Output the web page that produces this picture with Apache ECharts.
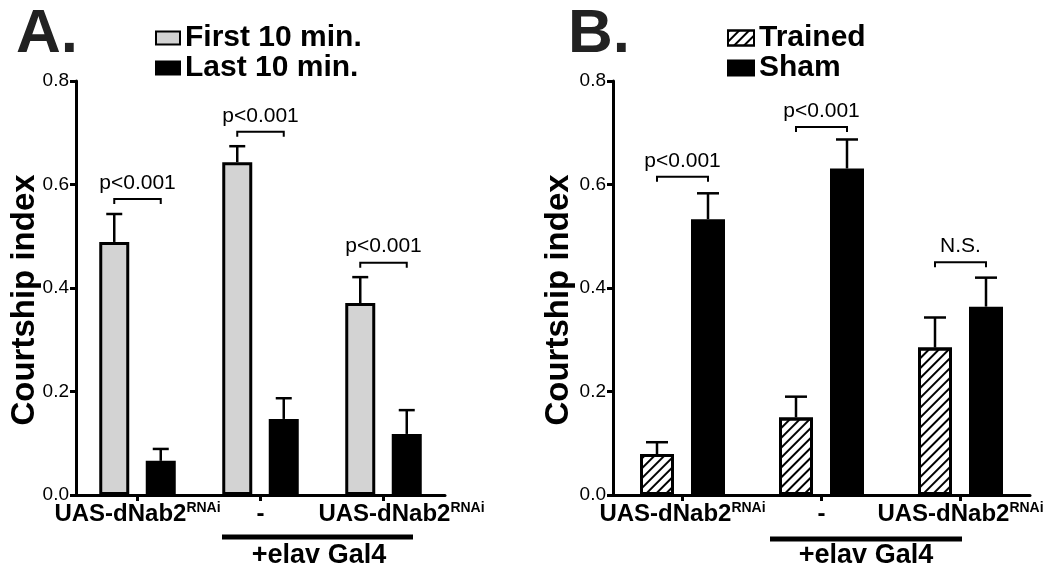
<!DOCTYPE html>
<html>
<head>
<meta charset="utf-8">
<script src="https://cdn.jsdelivr.net/npm/echarts@6/dist/echarts.min.js"></script>
<style>html,body{margin:0;padding:0;background:#fff;}#c{width:1050px;height:570px;}</style>
</head>
<body>
<div id="c"></div>
<script>
// ---- data ----
const categoriesA = ['UAS-dNab2RNAi', '-', 'UAS-dNab2RNAi'];
const firstA = [0.489, 0.643, 0.371];
const firstAErr = [0.543, 0.674, 0.421];
const lastA = [0.066, 0.147, 0.118];
const lastAErr = [0.089, 0.187, 0.164];
const bracketA = [0.572, 0.702, 0.449];
const bracketALabels = ['p<0.001', 'p<0.001', 'p<0.001'];

const categoriesB = ['UAS-dNab2RNAi', '-', 'UAS-dNab2RNAi'];
const trainedB = [0.079, 0.150, 0.285];
const trainedBErr = [0.102, 0.190, 0.343];
const shamB = [0.533, 0.631, 0.364];
const shamBErr = [0.583, 0.687, 0.420];
const bracketB = [0.615, 0.711, 0.450];
const bracketBLabels = ['p<0.001', 'p<0.001', 'N.S.'];

const yTicks = [0.0, 0.2, 0.4, 0.6, 0.8];
const seriesNamesA = ['First 10 min.', 'Last 10 min.'];
const seriesNamesB = ['Trained', 'Sham'];

// ---- chart ----
const FONT = '"Liberation Sans", Arial, Helvetica, sans-serif';
const chart = echarts.init(document.getElementById('c'), null, {renderer: 'canvas'});

const BW_A = 30, GAP_A = 0.55, OFF_A = (BW_A * (1 + GAP_A)) / 2;
const BW_B = 34, GAP_B = 0.50, OFF_B = (BW_B * (1 + GAP_B)) / 2;

function errSeries(axisIdx, vals, errs, offset, capW) {
  return {
    type: 'custom', xAxisIndex: axisIdx, yAxisIndex: axisIdx, z: 3,
    silent: true,
    data: vals.map((v, i) => [i, v, errs[i]]),
    renderItem: function (params, api) {
      const p0 = api.coord([api.value(0), api.value(1)]);
      const p1 = api.coord([api.value(0), api.value(2)]);
      const x = p0[0] + offset;
      return {
        type: 'group', children: [
          {type: 'line', shape: {x1: x, y1: p0[1], x2: x, y2: p1[1]}, style: {stroke: '#000', lineWidth: 2.5}},
          {type: 'line', shape: {x1: x - capW / 2, y1: p1[1], x2: x + capW / 2, y2: p1[1]}, style: {stroke: '#000', lineWidth: 2.5}}
        ]
      };
    }
  };
}

function bracketSeries(axisIdx, ys, labels, offset) {
  return {
    type: 'custom', xAxisIndex: axisIdx, yAxisIndex: axisIdx, z: 4,
    silent: true,
    data: ys.map((y, i) => [i, y, labels[i]]),
    renderItem: function (params, api) {
      const p = api.coord([api.value(0), api.value(1)]);
      const xl = p[0] - offset, xr = p[0] + offset, y = p[1];
      const lab = labels[params.dataIndex];
      return {
        type: 'group', children: [
          {type: 'polyline', shape: {points: [[xl, y + 5], [xl, y], [xr, y], [xr, y + 5]]},
           style: {stroke: '#000', lineWidth: 2, fill: null}},
          {type: 'text', style: {text: lab, x: p[0], y: y - 16, textAlign: 'center', textVerticalAlign: 'middle',
            font: '21px ' + FONT, fill: '#000'}}
        ]
      };
    }
  };
}

function labelFormatter(v) {
  if (v.endsWith('RNAi')) return '{m|' + v.slice(0, -4) + '}{s|RNAi}';
  return '{m|' + v + '}';
}
const richLabel = {
  m: {fontSize: 24, fontWeight: 'bold', fontFamily: FONT, color: '#000', lineHeight: 26},
  s: {fontSize: 14, fontWeight: 'bold', fontFamily: FONT, color: '#000', verticalAlign: 'top', lineHeight: 16}
};

function xAxis(gridIdx, cats, shiftLast) {
  return {
    type: 'category', gridIndex: gridIdx,
    data: cats.map((c, i) => (shiftLast && i === cats.length - 1) ? {value: c, textStyle: {padding: [0, 0, 0, 36]}} : c),
    axisLine: {lineStyle: {color: '#000', width: 3}},
    axisTick: {show: true, alignWithLabel: true, length: 6, lineStyle: {color: '#000', width: 3}},
    axisLabel: {margin: 6, formatter: labelFormatter, rich: richLabel, interval: 0},
    splitLine: {show: false}
  };
}
function yAxis(gridIdx, gap) {
  return {
    type: 'value', gridIndex: gridIdx,
    min: yTicks[0], max: yTicks[yTicks.length - 1], interval: yTicks[1] - yTicks[0],
    name: 'Courtship index', nameLocation: 'middle', nameGap: gap, nameMoveOverlap: false,
    nameTextStyle: {fontSize: 33, fontWeight: 'bold', fontFamily: FONT, color: '#000', padding: [0, 24, 0, 0]},
    axisLine: {show: true, lineStyle: {color: '#000', width: 3}},
    axisTick: {show: true, length: 6, lineStyle: {color: '#000', width: 3}},
    axisLabel: {margin: 7, fontSize: 19, fontFamily: FONT, color: '#000', formatter: v => v.toFixed(1)},
    splitLine: {show: false}
  };
}

const hatch = {symbol: 'rect', symbolSize: 1, dashArrayX: [1, 0], dashArrayY: [2, 5], rotation: -Math.PI / 4, color: '#000'};

const option = {
  backgroundColor: '#fff',
  animation: false,
  grid: [
    {left: 76, top: 81, width: 369, height: 414},
    {left: 613, top: 81, width: 417, height: 414}
  ],
  xAxis: [xAxis(0, categoriesA, true), xAxis(1, categoriesB, false)],
  yAxis: [yAxis(0, 35), yAxis(1, 38)],
  legend: [
    {data: seriesNamesA, orient: 'vertical', left: 150, top: 18, icon: 'rect', itemWidth: 24, itemHeight: 13, itemGap: 0,
     selectedMode: false, textStyle: {fontSize: 30, fontWeight: 'bold', fontFamily: FONT, color: '#000', lineHeight: 30}},
    {data: seriesNamesB, orient: 'vertical', left: 722, top: 18, icon: 'rect', itemWidth: 26, itemHeight: 15, itemGap: 0,
     selectedMode: false, textStyle: {fontSize: 30, fontWeight: 'bold', fontFamily: FONT, color: '#000', lineHeight: 30}}
  ],
  series: [
    {name: seriesNamesA[0], type: 'bar', xAxisIndex: 0, yAxisIndex: 0, data: firstA, barWidth: BW_A, barGap: (GAP_A * 100) + '%',
     itemStyle: {color: '#d3d3d3', borderColor: '#000', borderWidth: 3}},
    {name: seriesNamesA[1], type: 'bar', xAxisIndex: 0, yAxisIndex: 0, data: lastA, barWidth: BW_A, barGap: (GAP_A * 100) + '%',
     itemStyle: {color: '#000', borderColor: '#000', borderWidth: 3}},
    errSeries(0, firstA, firstAErr, -OFF_A, 16),
    errSeries(0, lastA, lastAErr, OFF_A, 16),
    bracketSeries(0, bracketA, bracketALabels, OFF_A),
    {name: seriesNamesB[0], type: 'bar', xAxisIndex: 1, yAxisIndex: 1, data: trainedB, barWidth: BW_B, barGap: (GAP_B * 100) + '%',
     itemStyle: {color: '#fff', borderColor: '#000', borderWidth: 3, decal: hatch}},
    {name: seriesNamesB[1], type: 'bar', xAxisIndex: 1, yAxisIndex: 1, data: shamB, barWidth: BW_B, barGap: (GAP_B * 100) + '%',
     itemStyle: {color: '#000', borderColor: '#000', borderWidth: 3}},
    errSeries(1, trainedB, trainedBErr, -OFF_B, 22),
    errSeries(1, shamB, shamBErr, OFF_B, 22),
    bracketSeries(1, bracketB, bracketBLabels, OFF_B)
  ],
  graphic: [
    {type: 'text', left: 16, top: 4, style: {text: 'A.', font: 'bold 62px ' + FONT, fill: '#222'}},
    {type: 'text', left: 568, top: 4, style: {text: 'B.', font: 'bold 62px ' + FONT, fill: '#222'}},
    {type: 'line', shape: {x1: 222, y1: 537, x2: 413, y2: 537}, style: {stroke: '#000', lineWidth: 5}},
    {type: 'line', shape: {x1: 770, y1: 539, x2: 962, y2: 539}, style: {stroke: '#000', lineWidth: 5}},
    {type: 'text', x: 319, y: 556, style: {text: '+elav Gal4', x: 0, y: 0, textAlign: 'center', textVerticalAlign: 'middle', font: 'bold 27px ' + FONT, fill: '#000'}},
    {type: 'text', x: 866, y: 556, style: {text: '+elav Gal4', x: 0, y: 0, textAlign: 'center', textVerticalAlign: 'middle', font: 'bold 27px ' + FONT, fill: '#000'}}
  ]
};
chart.setOption(option);
</script>
</body>
</html>
